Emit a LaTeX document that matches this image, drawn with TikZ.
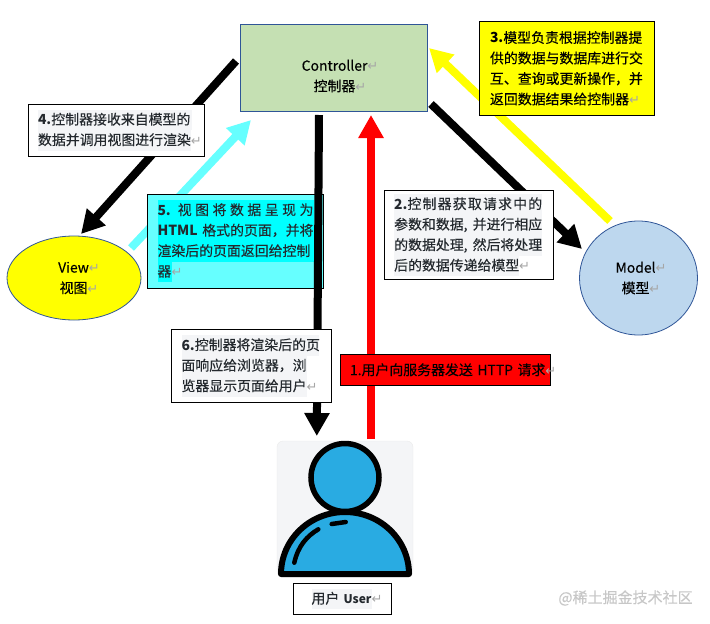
\documentclass[tikz,border=0pt]{standalone}
\usepackage{fontspec}
\setmainfont{Noto Sans CJK SC}[UprightFeatures={FakeBold=0.25}]
\newfontfamily\markfont{DejaVu Sans}
\usetikzlibrary{arrows.meta,shapes.geometric}
\definecolor{ctrlgreen}{HTML}{C5E0B3}
\definecolor{modelblue}{HTML}{BDD7EE}
\definecolor{edgeblue}{HTML}{2F5597}
\definecolor{softcyan}{HTML}{66FFFF}
\definecolor{purecyan}{HTML}{00FFFF}
\definecolor{pureyellow}{HTML}{FFFF00}
\definecolor{purered}{HTML}{FF0000}
\definecolor{linegrey}{HTML}{F4F5F7}
\definecolor{inkgrey}{HTML}{24292E}
\definecolor{userblue}{HTML}{29ABE2}
\newcommand{\pmark}{{\markfont\fontsize{13}{13}\selectfont\textcolor{gray!70}{↵}}}
% one shaded text line: colour, width, text
\newcommand{\tline}[3]{{\setlength{\fboxsep}{0pt}\spaceskip=1pt plus 1fil\colorbox{#1}{\rule[-5.5pt]{0pt}{20.5pt}\makebox[#2pt][s]{#3}}}}
\tikzset{
  bigarrow/.style={line width=8pt,-{Triangle[length=23pt,width=24pt]}},
  stepbox/.style={draw=black,line width=1pt,rectangle,inner xsep=0pt,inner ysep=0pt,align=left,
    font=\fontsize{13.9}{20.5}\selectfont,text=inkgrey},
  partshape/.style={draw=edgeblue,line width=0.8pt},
  partlabel/.style={align=center,font=\fontsize{13.9}{20.5}\selectfont,text=black},
}
\begin{document}
\begin{tikzpicture}[x=1pt,y=-1pt]
\useasboundingbox (0,0) rectangle (710,624);

% The three parts
\node[partshape,fill=ctrlgreen,minimum width=187pt,minimum height=86.5pt] (ctrl) at (334,67.75) {};
\node[partshape,ellipse,fill=pureyellow,minimum width=134pt,minimum height=84pt,inner sep=0pt] (view) at (74,278) {};
\node[partshape,ellipse,fill=modelblue,minimum width=118pt,minimum height=114pt,inner sep=0pt] (model) at (638.5,278) {};
\node[partlabel] (ctrltext) at (340,76) {Controller\pmark\\控制器\pmark};
\node[partlabel] (viewtext) at (79,278) {View\pmark\\视图\pmark};
\node[partlabel] (modeltext) at (641,278) {Model\pmark\\模型\pmark};

% The user icon
\node[draw=black!8,fill=linegrey,rounded corners=6pt,minimum width=136pt,minimum height=136pt] (userbg) at (345,509) {};
\draw[line width=6pt,fill=userblue,line join=round] (281,574) arc[start angle=180,end angle=360,x radius=64,y radius=62] -- cycle;
\node[circle,draw=black,line width=5.5pt,fill=userblue,minimum size=68pt,inner sep=0pt] (head) at (345,477.5) {};
\draw[line width=4.5pt,line cap=round] (294.3,562.7) .. controls (298,546) and (307,536) .. (318.3,529.3);
\draw[line width=4.5pt,line cap=round] (331.7,524) -- (345.7,522);

% Anchors for the arrow ends
\coordinate (c2v) at (236,61);
\coordinate (v2) at (81,234);
\coordinate (v2c) at (131,248);
\coordinate (c5) at (251,120);
\coordinate (m2c) at (610,221);
\coordinate (c3) at (429,48);
\coordinate (c2m) at (431,104);
\coordinate (m2) at (582,249);
\coordinate (u2c) at (371,439);
\coordinate (c1) at (371,115);
\coordinate (c2u) at (319,115);
\coordinate (u6) at (316.8,436);

% Arrows below the boxes
\draw[bigarrow,black] (c2v) -- (v2);
\draw[bigarrow,softcyan] (v2c) -- (c5);
\draw[bigarrow,pureyellow] (m2c) -- (c3);
\draw[bigarrow,black] (c2m) -- (m2);
\draw[bigarrow,purered] (u2c) -- (c1);

% Box 5 sits under the return arrow
\node[stepbox,fill=softcyan,minimum width=176pt,minimum height=94pt,text width=156pt] (note5) at (235.5,241) {%
\tline{purecyan}{156}{\textbf{5.} 视 图 将 数 据 呈 现 为}\\
\tline{purecyan}{156}{\textbf{HTML} 格式的页面，并将}\\
\tline{purecyan}{156}{渲染后的页面返回给控制}\\
\tline{purecyan}{14}{器}\pmark};
\draw[bigarrow,black] (c2u) -- (u6);

% Remaining step boxes
\node[stepbox,fill=white,minimum width=176pt,minimum height=52pt,text width=156pt] (note4) at (116,130) {%
\tline{linegrey}{154}{\textbf{4.}控制器接收来自模型的}\\
\tline{linegrey}{153}{数据并调用视图进行渲染}\pmark};
\node[stepbox,fill=pureyellow,text=black,minimum width=175pt,minimum height=94pt,text width=154pt] (note3) at (567,68.3) {%
\makebox[153pt][s]{\textbf{3.}模型负责根据控制器提}\\
\makebox[153pt][s]{供的数据与数据库进行交}\\
\makebox[153pt][s]{互、查询或更新操作，并}\\
返回数据结果给控制器\pmark};
\node[stepbox,fill=white,minimum width=169pt,minimum height=88.5pt,text width=150pt] (note2) at (469.2,235) {%
\tline{linegrey}{148}{\textbf{2.}控 制 器 获 取 请 求 中 的}\\
\tline{linegrey}{148}{参数和数据, 并进行相应}\\
\tline{linegrey}{148}{的数据处理, 然后将处理}\\
\tline{linegrey}{125}{后的数据传递给模型}\pmark};
\node[stepbox,fill=white,minimum width=160.5pt,minimum height=73pt,text width=140pt] (note6) at (251.5,365.8) {%
\tline{linegrey}{137}{\textbf{6.}控制器将渲染后的页}\\
\tline{linegrey}{125}{面响应给浏览器，浏}\\
\tline{linegrey}{125}{览器显示页面给用户}\pmark};
\node[stepbox,fill=purered,text=black,minimum width=210pt,minimum height=31.5pt,text width=190pt] (note1) at (445,369.8) {%
\makebox[190pt][l]{1.用户向服务器发送 HTTP 请求\pmark}};
\node[stepbox,fill=white,minimum width=98.5pt,minimum height=31pt,text width=62pt] (userlabel) at (342.5,598.8) {%
\tline{linegrey}{60}{用户 \textbf{\fontsize{12}{20}\selectfont User}}\pmark};

% Site mark in the corner
\node[text=black!22,font=\fontsize{15}{16}\selectfont,inner sep=0pt] (sitemark) at (625.5,598) {@稀土掘金技术社区};
\end{tikzpicture}
\end{document}
